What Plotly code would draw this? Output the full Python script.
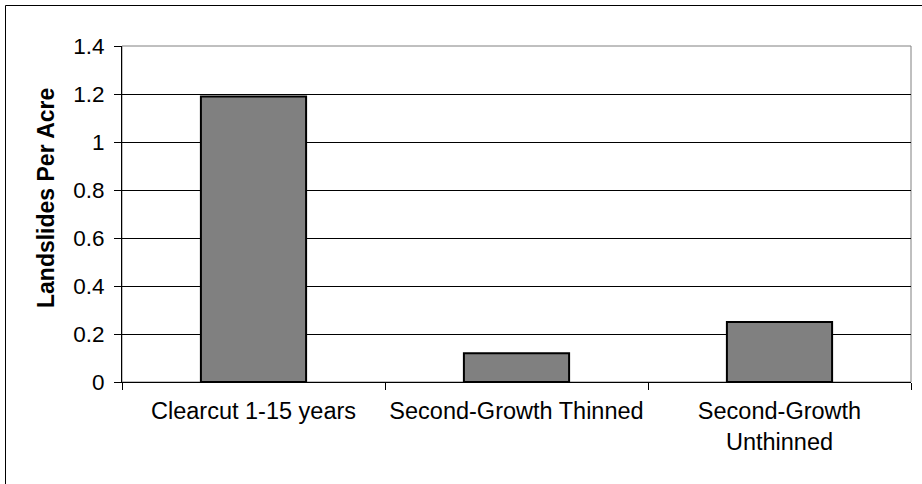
import plotly.graph_objects as go

categories = ["Clearcut 1-15 years", "Second-Growth Thinned", "Second-Growth<br>Unthinned"]
values = [1.19, 0.12, 0.25]
y_title = "Landslides Per Acre"

W, H = 922, 484
L, R, T, B = 122, 11, 46, 102
pw, ph = W - L - R, H - T - B

FAM = "Liberation Sans, Arial, sans-serif"

fig = go.Figure()
fig.add_trace(go.Bar(
    x=categories, y=values,
    marker=dict(color="#808080", line=dict(color="black", width=2)),
))

fig.update_layout(
    width=W, height=H,
    margin=dict(l=L, r=R, t=T, b=B, pad=0, autoexpand=False),
    paper_bgcolor="white", plot_bgcolor="white",
    bargap=0.6,
    showlegend=False,
    font=dict(family=FAM, size=22, color="black"),
    xaxis=dict(
        type="category", tickson="boundaries", ticks="outside", ticklen=7,
        tickcolor="black", tickwidth=1, showline=True, linecolor="black", linewidth=1,
        showgrid=False, tickfont=dict(family=FAM, size=23.5, color="black"),
        ticklabelstandoff=8, tickangle=0, automargin=False,
    ),
    yaxis=dict(
        range=[0, 1.4], dtick=0.2, ticks="outside", ticklen=7, tickcolor="black",
        showline=True, linecolor="black", linewidth=1, showgrid=True,
        gridcolor="black", gridwidth=1, zeroline=False,
        tickfont=dict(family=FAM, size=22.5, color="black"),
        ticklabelstandoff=5, automargin=False,
    ),
    shapes=[
        dict(type="rect", xref="paper", yref="paper", x0=0, x1=1, y0=0, y1=1,
             line=dict(color="#808080", width=1), layer="below"),
        dict(type="rect", xref="paper", yref="paper",
             x0=(5.5 - L) / pw, x1=(W + 20 - L) / pw,
             y0=((H - B) - (H + 20)) / ph, y1=((H - B) - 5.5) / ph,
             line=dict(color="black", width=1), layer="below"),
    ],
    annotations=[
        dict(text="<b>" + y_title + "</b>", xref="paper", yref="paper",
             x=(46 - L) / pw, y=((H - B) - 198) / ph, textangle=-90,
             showarrow=False, xanchor="center", yanchor="middle",
             font=dict(family=FAM, size=23, color="black")),
    ],
)

fig.write_html("out.html", config={"displayModeBar": False},
               post_script="document.body.style.margin='0';document.body.style.overflow='hidden';")
